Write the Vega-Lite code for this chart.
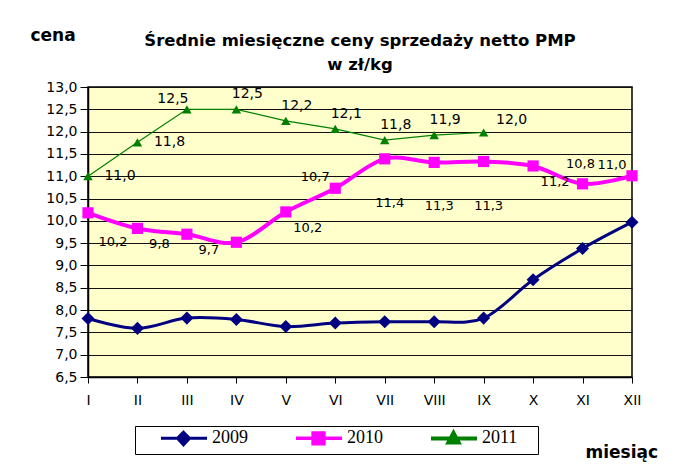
{
  "$schema": "https://vega.github.io/schema/vega-lite/v6.json",
  "width": 544,
  "height": 290,
  "autosize": {"type": "none"},
  "padding": {"left": 88, "top": 87, "right": 67, "bottom": 87},
  "background": "white",
  "title": {
    "text": ["Średnie miesięczne ceny sprzedaży netto PMP", "w zł/kg"],
    "font": "DejaVu Sans", "fontSize": 16.5, "fontWeight": "bold", "color": "black",
    "anchor": "middle", "lineHeight": 24, "offset": -47
  },
  "data": {
    "values": [
      {"month": "I", "year": "2009", "value": 7.81},
      {"month": "II", "year": "2009", "value": 7.59},
      {"month": "III", "year": "2009", "value": 7.82},
      {"month": "IV", "year": "2009", "value": 7.79},
      {"month": "V", "year": "2009", "value": 7.63},
      {"month": "VI", "year": "2009", "value": 7.71},
      {"month": "VII", "year": "2009", "value": 7.74},
      {"month": "VIII", "year": "2009", "value": 7.74},
      {"month": "IX", "year": "2009", "value": 7.82},
      {"month": "X", "year": "2009", "value": 8.68},
      {"month": "XI", "year": "2009", "value": 9.38},
      {"month": "XII", "year": "2009", "value": 9.97},
      {"month": "I", "year": "2010", "value": 10.18},
      {"month": "II", "year": "2010", "value": 9.83},
      {"month": "III", "year": "2010", "value": 9.7},
      {"month": "IV", "year": "2010", "value": 9.52},
      {"month": "V", "year": "2010", "value": 10.2},
      {"month": "VI", "year": "2010", "value": 10.73},
      {"month": "VII", "year": "2010", "value": 11.39},
      {"month": "VIII", "year": "2010", "value": 11.31},
      {"month": "IX", "year": "2010", "value": 11.33},
      {"month": "X", "year": "2010", "value": 11.23},
      {"month": "XI", "year": "2010", "value": 10.83},
      {"month": "XII", "year": "2010", "value": 11.01},
      {"month": "I", "year": "2011", "value": 11.0},
      {"month": "II", "year": "2011", "value": 11.76},
      {"month": "III", "year": "2011", "value": 12.5},
      {"month": "IV", "year": "2011", "value": 12.5},
      {"month": "V", "year": "2011", "value": 12.24},
      {"month": "VI", "year": "2011", "value": 12.06},
      {"month": "VII", "year": "2011", "value": 11.81},
      {"month": "VIII", "year": "2011", "value": 11.92},
      {"month": "IX", "year": "2011", "value": 11.98}
    ]
  },
  "encoding": {
    "x": {
      "field": "month", "type": "ordinal",
      "sort": ["I","II","III","IV","V","VI","VII","VIII","IX","X","XI","XII"],
      "scale": {"type": "point", "padding": 0, "domain": ["I","II","III","IV","V","VI","VII","VIII","IX","X","XI","XII"]},
      "axis": {
        "title": "miesiąc", "titleX": 497, "titleY": 80, "titleAlign": "left", "titleBaseline": "alphabetic",
        "titleFont": "DejaVu Sans", "titleFontSize": 17, "titleFontWeight": "bold", "titleColor": "black",
        "labelAngle": 0, "labelFont": "DejaVu Sans", "labelFontSize": 14, "labelColor": "black",
        "labelPadding": 10, "tickSize": 6, "tickColor": "black", "tickWidth": 1,
        "domainColor": "black", "domainWidth": 1.5, "grid": false
      }
    },
    "y": {
      "field": "value", "type": "quantitative",
      "scale": {"domain": [6.5, 13], "zero": false, "nice": false},
      "axis": {
        "title": "cena", "titleAngle": 0, "titleX": -58, "titleY": -47, "titleAlign": "left", "titleBaseline": "alphabetic",
        "titleFont": "DejaVu Sans", "titleFontSize": 17, "titleFontWeight": "bold", "titleColor": "black",
        "values": [6.5, 7, 7.5, 8, 8.5, 9, 9.5, 10, 10.5, 11, 11.5, 12, 12.5, 13],
        "format": ".1f", "labelFont": "DejaVu Sans", "labelFontSize": 14, "labelColor": "black",
        "labelPadding": 3, "tickSize": 8, "tickColor": "black", "domainColor": "black", "domainWidth": 1.5,
        "grid": true, "gridColor": "#111111", "gridWidth": 1
      }
    }
  },
  "layer": [
    {
      "transform": [{"filter": {"field": "year", "equal": "2009"}}],
      "mark": {"type": "line", "interpolate": "cardinal", "color": "#000080", "strokeWidth": 3},
      "encoding": {}
    },
    {
      "transform": [{"filter": {"field": "year", "equal": "2010"}}],
      "mark": {"type": "line", "interpolate": "cardinal", "color": "#FF00FF", "strokeWidth": 4},
      "encoding": {}
    },
    {
      "transform": [{"filter": {"field": "year", "equal": "2011"}}],
      "mark": {"type": "line", "color": "#008000", "strokeWidth": 1.2},
      "encoding": {}
    },
    {
      "transform": [{"filter": {"field": "year", "equal": "2009"}}],
      "mark": {"type": "point", "shape": "diamond", "filled": true, "size": 170, "color": "#000080", "opacity": 1}
    },
    {
      "transform": [{"filter": {"field": "year", "equal": "2010"}}],
      "mark": {"type": "point", "shape": "square", "filled": true, "size": 125, "color": "#FF00FF", "opacity": 1}
    },
    {
      "transform": [{"filter": {"field": "year", "equal": "2011"}}],
      "mark": {"type": "point", "shape": "triangle-up", "filled": true, "size": 90, "color": "#008000", "opacity": 1}
    },
    {
      "transform": [{"filter": {"and": [{"field": "year", "equal": "2010"}, {"field": "month", "oneOf": ["I"]}]}}],
      "mark": {"type": "text", "font": "DejaVu Sans", "fontSize": 13, "color": "black", "dx": 25, "dy": 29},
      "encoding": {"text": {"field": "value", "type": "quantitative", "format": ".1f"}}
    },
    {
      "transform": [{"filter": {"and": [{"field": "year", "equal": "2010"}, {"field": "month", "oneOf": ["II", "III", "V", "X"]}]}}],
      "mark": {"type": "text", "font": "DejaVu Sans", "fontSize": 13, "color": "black", "dx": 22, "dy": 16},
      "encoding": {"text": {"field": "value", "type": "quantitative", "format": ".1f"}}
    },
    {
      "transform": [{"filter": {"and": [{"field": "year", "equal": "2010"}, {"field": "month", "oneOf": ["VI", "XII"]}]}}],
      "mark": {"type": "text", "font": "DejaVu Sans", "fontSize": 13, "color": "black", "dx": -20, "dy": -11},
      "encoding": {"text": {"field": "value", "type": "quantitative", "format": ".1f"}}
    },
    {
      "transform": [{"filter": {"and": [{"field": "year", "equal": "2010"}, {"field": "month", "oneOf": ["VII", "VIII", "IX"]}]}}],
      "mark": {"type": "text", "font": "DejaVu Sans", "fontSize": 13, "color": "black", "dx": 5, "dy": 44},
      "encoding": {"text": {"field": "value", "type": "quantitative", "format": ".1f"}}
    },
    {
      "transform": [{"filter": {"and": [{"field": "year", "equal": "2010"}, {"field": "month", "oneOf": ["XI"]}]}}],
      "mark": {"type": "text", "font": "DejaVu Sans", "fontSize": 13, "color": "black", "dx": -2, "dy": -20},
      "encoding": {"text": {"field": "value", "type": "quantitative", "format": ".1f"}}
    },
    {
      "transform": [{"filter": {"and": [{"field": "year", "equal": "2011"}, {"field": "month", "oneOf": ["I", "II"]}]}}],
      "mark": {"type": "text", "font": "DejaVu Sans", "fontSize": 14, "color": "black", "dx": 32, "dy": 0},
      "encoding": {"text": {"field": "value", "type": "quantitative", "format": ".1f"}}
    },
    {
      "transform": [{"filter": {"and": [{"field": "year", "equal": "2011"}, {"field": "month", "oneOf": ["III"]}]}}],
      "mark": {"type": "text", "font": "DejaVu Sans", "fontSize": 14, "color": "black", "dx": -14, "dy": -10},
      "encoding": {"text": {"field": "value", "type": "quantitative", "format": ".1f"}}
    },
    {
      "transform": [{"filter": {"and": [{"field": "year", "equal": "2011"}, {"field": "month", "oneOf": ["IV", "V", "VI", "VII", "VIII"]}]}}],
      "mark": {"type": "text", "font": "DejaVu Sans", "fontSize": 14, "color": "black", "dx": 11, "dy": -15},
      "encoding": {"text": {"field": "value", "type": "quantitative", "format": ".1f"}}
    },
    {
      "transform": [{"filter": {"and": [{"field": "year", "equal": "2011"}, {"field": "month", "oneOf": ["IX"]}]}}],
      "mark": {"type": "text", "font": "DejaVu Sans", "fontSize": 14, "color": "black", "dx": 28, "dy": -13},
      "encoding": {"text": {"field": "value", "type": "quantitative", "format": ".1f"}}
    },
    {
      "transform": [{"filter": "false"}],
      "mark": {"type": "point", "filled": true, "opacity": 1},
      "encoding": {
        "fill": {"field": "year", "type": "nominal", "scale": {"domain": ["2009","2010","2011"], "range": ["#000080","#FF00FF","#008000"]},
          "legend": {"title": "\u2800", "titleOrient": "right", "titleFontSize": 1, "titlePadding": 17,
            "orient": "none", "legendX": 47, "legendY": 339, "direction": "horizontal", "symbolSize": 144,
            "symbolOffset": 20, "labelFont": "Liberation Serif", "labelFontSize": 18, "labelColor": "black", "labelOffset": 36, "columnPadding": 25,
            "strokeColor": "black", "fillColor": "white", "padding": 3}},
        "stroke": {"field": "year", "type": "nominal", "scale": {"domain": ["2009","2010","2011"], "range": ["#000080","#FF00FF","#008000"]},
          "legend": {"title": "\u2800", "titleOrient": "right", "titleFontSize": 1, "titlePadding": 17,
            "orient": "none", "legendX": 47, "legendY": 339, "direction": "horizontal", "symbolSize": 144,
            "symbolOffset": 20, "labelFont": "Liberation Serif", "labelFontSize": 18, "labelColor": "black", "labelOffset": 36, "columnPadding": 25,
            "strokeColor": "black", "fillColor": "white", "padding": 3}},
        "shape": {"field": "year", "type": "nominal", "scale": {"domain": ["2009","2010","2011"],
            "range": ["M-1,0H6.67M2.75,-1L3.75,0L2.75,1.1L1.75,0Z", "M-1,0H6.67M1.85,-0.9H3.65V0.9H1.85Z", "M-1,0H6.67M2.75,-0.9L3.6,0.7H1.9Z"]},
          "legend": {"title": "\u2800", "titleOrient": "right", "titleFontSize": 1, "titlePadding": 17,
            "orient": "none", "legendX": 47, "legendY": 339, "direction": "horizontal", "symbolSize": 144,
            "symbolOffset": 20, "labelFont": "Liberation Serif", "labelFontSize": 18, "labelColor": "black", "labelOffset": 36, "columnPadding": 25,
            "strokeColor": "black", "fillColor": "white", "padding": 3}},
        "strokeWidth": {"field": "year", "type": "ordinal", "scale": {"domain": ["2009","2010","2011"], "range": [3, 4, 1.2]},
          "legend": {"title": "\u2800", "titleOrient": "right", "titleFontSize": 1, "titlePadding": 17,
            "orient": "none", "legendX": 47, "legendY": 339, "direction": "horizontal", "symbolSize": 144,
            "symbolOffset": 20, "labelFont": "Liberation Serif", "labelFontSize": 18, "labelColor": "black", "labelOffset": 36, "columnPadding": 25,
            "strokeColor": "black", "fillColor": "white", "padding": 3}}
      }
    }
  ],
  "config": {
    "locale": {"number": {"decimal": ",", "thousands": " ", "grouping": [3], "currency": ["", " zł"]}},
    "view": {"fill": "#FFFFCC", "stroke": "black", "strokeWidth": 1.5},
    "text": {"align": "center", "baseline": "middle"}
  }
}
